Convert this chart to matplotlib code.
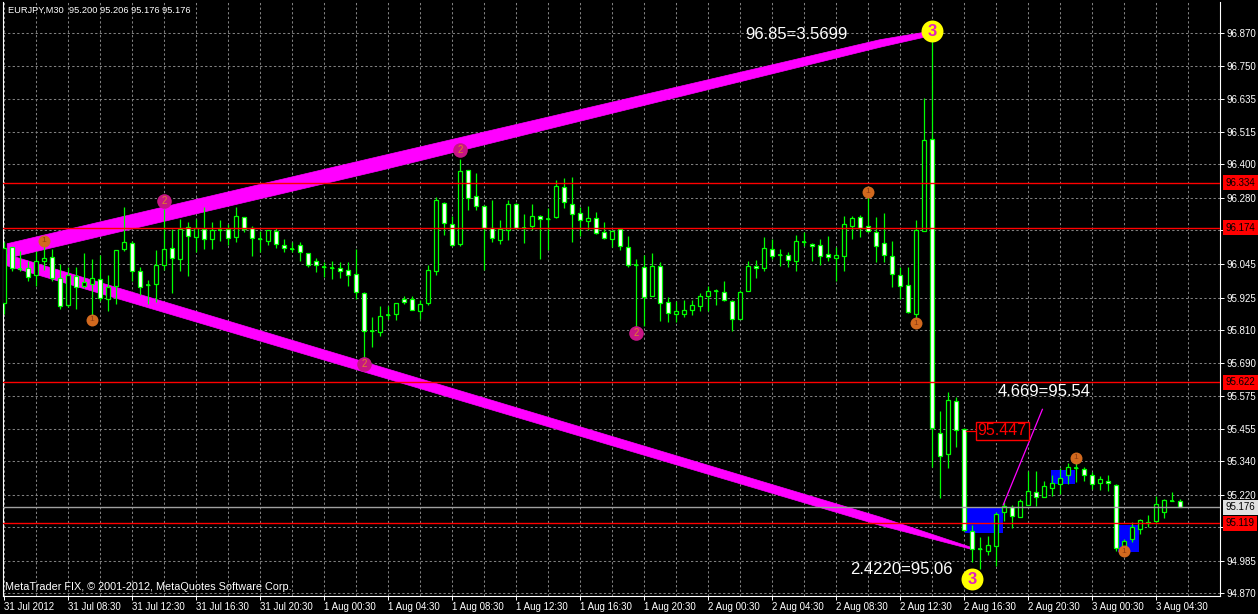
import numpy as np
import matplotlib.pyplot as plt
from matplotlib.patches import Rectangle, Polygon
from matplotlib.transforms import blended_transform_factory, ScaledTranslation

plt.rcParams['font.family'] = ['Liberation Sans', 'DejaVu Sans']

header = "EURJPY,M30  95.200 95.206 95.176 95.176"
copyright_txt = "MetaTrader FIX, \u00a9 2001-2012, MetaQuotes Software Corp."

# M30 candles, 31 Jul 04:30 .. 3 Aug 06:00
opens = [95.904, 96.104, 96.028, 96.030, 96.005, 96.054, 96.068, 95.995, 95.897, 96.002,
         95.966, 95.973, 95.991, 95.920, 95.967, 96.098, 96.119, 96.021, 95.968, 95.973,
         96.040, 96.102, 96.062, 96.175, 96.140, 96.169, 96.134, 96.166, 96.169, 96.142,
         96.211, 96.172, 96.133, 96.125, 96.161, 96.112, 96.099, 96.112, 96.083, 96.055,
         96.035, 96.030, 96.030, 96.023, 96.009, 95.941, 95.804, 95.802, 95.864, 95.866,
         95.918, 95.921, 95.877, 95.905, 96.020, 96.263, 96.188, 96.115, 96.379, 96.286,
         96.250, 96.174, 96.132, 96.165, 96.260, 96.174, 96.179, 96.217, 96.206, 96.212,
         96.319, 96.260, 96.228, 96.198, 96.210, 96.160, 96.134, 96.169, 96.104, 96.040,
         96.033, 95.929, 96.036, 95.908, 95.865, 95.865, 95.880, 95.896, 95.929, 95.947,
         95.945, 95.913, 95.847, 95.947, 96.037, 96.030, 96.097, 96.077, 96.077, 96.054,
         96.122, 96.116, 96.112, 96.080, 96.065, 96.072, 96.181, 96.211, 96.179, 96.160,
         96.120, 96.074, 96.005, 95.970, 95.866, 96.163, 96.492, 95.443, 95.365, 95.555,
         95.456, 95.091, 95.026, 95.022, 95.038, 95.159, 95.177, 95.141, 95.186, 95.230,
         95.215, 95.246, 95.258, 95.293, 95.317, 95.313, 95.293, 95.262, 95.272, 95.256,
         95.040, 95.064, 95.100, 95.125, 95.129, 95.160, 95.200, 95.200]
highs = [96.122, 96.106, 96.092, 96.056, 96.092, 96.122, 96.098, 96.045, 96.033, 96.035,
         96.085, 96.062, 96.078, 96.007, 96.095, 96.247, 96.128, 96.033, 95.987, 96.095,
         96.241, 96.169, 96.205, 96.193, 96.205, 96.249, 96.193, 96.202, 96.187, 96.249,
         96.214, 96.181, 96.164, 96.166, 96.173, 96.134, 96.124, 96.124, 96.085, 96.065,
         96.051, 96.056, 96.053, 96.053, 96.098, 95.944, 95.854, 95.894, 95.894, 95.905,
         95.929, 95.929, 95.917, 96.040, 96.283, 96.266, 96.215, 96.420, 96.381, 96.369,
         96.254, 96.272, 96.200, 96.274, 96.262, 96.222, 96.257, 96.218, 96.245, 96.343,
         96.351, 96.355, 96.248, 96.250, 96.230, 96.196, 96.166, 96.172, 96.146, 96.062,
         96.077, 96.084, 96.051, 95.928, 95.914, 95.917, 95.917, 95.942, 95.965, 95.955,
         95.985, 95.915, 95.953, 96.056, 96.060, 96.140, 96.134, 96.099, 96.089, 96.149,
         96.158, 96.118, 96.134, 96.146, 96.104, 96.215, 96.217, 96.221, 96.304, 96.211,
         96.225, 96.128, 96.033, 96.033, 96.202, 96.638, 96.855, 95.519, 95.588, 95.570,
         95.458, 95.114, 95.070, 95.073, 95.161, 95.197, 95.183, 95.206, 95.305, 95.305,
         95.272, 95.290, 95.317, 95.334, 95.334, 95.322, 95.302, 95.287, 95.293, 95.260,
         95.064, 95.123, 95.135, 95.150, 95.216, 95.206, 95.230, 95.206]
lows = [95.866, 96.021, 96.021, 95.983, 95.967, 96.023, 95.983, 95.884, 95.890, 95.884,
        95.959, 95.854, 95.914, 95.878, 95.902, 96.090, 95.985, 95.935, 95.902, 95.910,
        96.023, 95.940, 96.021, 96.003, 96.086, 96.098, 96.098, 96.128, 96.114, 96.122,
        96.158, 96.074, 96.086, 96.114, 96.100, 96.089, 96.089, 96.054, 96.033, 96.015,
        95.999, 95.991, 95.993, 95.967, 95.920, 95.706, 95.747, 95.787, 95.850, 95.846,
        95.903, 95.879, 95.849, 95.897, 96.004, 96.147, 96.108, 96.108, 96.239, 96.239,
        96.022, 96.123, 96.115, 96.131, 96.171, 96.119, 96.165, 96.064, 96.093, 96.210,
        96.245, 96.123, 96.143, 96.165, 96.153, 96.134, 96.104, 96.096, 96.033, 95.807,
        95.825, 95.929, 95.842, 95.836, 95.836, 95.854, 95.864, 95.876, 95.876, 95.899,
        95.911, 95.804, 95.847, 95.947, 95.995, 96.018, 96.062, 96.039, 96.035, 96.021,
        96.110, 96.056, 96.042, 96.054, 95.983, 96.021, 96.134, 96.142, 96.158, 96.051,
        96.051, 95.964, 95.920, 95.869, 95.831, 96.163, 95.321, 95.211, 95.315, 95.392,
        95.093, 94.983, 94.957, 95.007, 94.966, 95.126, 95.102, 95.141, 95.186, 95.180,
        95.215, 95.218, 95.224, 95.258, 95.266, 95.272, 95.242, 95.240, 95.236, 95.020,
        95.028, 95.052, 95.080, 95.105, 95.118, 95.139, 95.198, 95.176]
closes = [96.102, 96.030, 96.028, 95.997, 96.056, 96.066, 95.995, 95.894, 96.005, 95.961,
          95.980, 95.995, 95.923, 95.961, 96.095, 96.124, 96.018, 95.961, 95.968, 96.041,
          96.098, 96.066, 96.169, 96.144, 96.172, 96.134, 96.166, 96.166, 96.137, 96.217,
          96.169, 96.137, 96.133, 96.166, 96.116, 96.100, 96.099, 96.086, 96.041, 96.041,
          96.035, 96.030, 96.021, 96.005, 95.944, 95.807, 95.804, 95.860, 95.864, 95.905,
          95.909, 95.882, 95.903, 96.024, 96.272, 96.191, 96.111, 96.375, 96.280, 96.250,
          96.174, 96.137, 96.171, 96.257, 96.173, 96.174, 96.215, 96.206, 96.206, 96.322,
          96.266, 96.224, 96.203, 96.210, 96.156, 96.137, 96.163, 96.108, 96.041, 96.040,
          95.926, 96.036, 95.905, 95.869, 95.877, 95.882, 95.898, 95.930, 95.949, 95.947,
          95.915, 95.848, 95.946, 96.037, 96.030, 96.102, 96.073, 96.077, 96.059, 96.127,
          96.122, 96.108, 96.072, 96.068, 96.077, 96.187, 96.209, 96.173, 96.161, 96.108,
          96.077, 96.009, 95.965, 95.872, 96.166, 96.486, 95.458, 95.359, 95.559, 95.452,
          95.096, 95.028, 95.026, 95.042, 95.151, 95.180, 95.147, 95.198, 95.234, 95.212,
          95.252, 95.262, 95.281, 95.319, 95.317, 95.292, 95.260, 95.278, 95.262, 95.032,
          95.058, 95.105, 95.130, 95.120, 95.190, 95.204, 95.200, 95.176]

time_labels = ["31 Jul 2012", "31 Jul 08:30", "31 Jul 12:30", "31 Jul 16:30", "31 Jul 20:30",
               "1 Aug 00:30", "1 Aug 04:30", "1 Aug 08:30", "1 Aug 12:30", "1 Aug 16:30",
               "1 Aug 20:30", "2 Aug 00:30", "2 Aug 04:30", "2 Aug 08:30", "2 Aug 12:30",
               "2 Aug 16:30", "2 Aug 20:30", "3 Aug 00:30", "3 Aug 04:30"]
time_label_bars = list(range(0, 145, 8))

price_ticks = [96.870, 96.750, 96.635, 96.515, 96.400, 96.280, 96.165, 96.045, 95.925,
               95.810, 95.690, 95.575, 95.455, 95.340, 95.220, 95.105, 94.985, 94.870]
red_levels = [96.334, 96.174, 95.622, 95.119]
bid = 95.176

# wave labels
wave1_bars = [5, 11, 108, 114, 134, 140]
wave1_prices = [96.127, 95.845, 96.302, 95.834, 95.353, 95.020]
wave2_bars = [20, 45, 57, 79]
wave2_prices = [96.270, 95.688, 96.451, 95.799]
wave3_bars = [116, 121]
wave3_prices = [96.875, 94.920]

# magenta channel bands (bar, top price, bottom price)
upper_band_bars = [0.4, 47, 109.5, 116]
upper_band_top = [96.117, 96.429, 96.845, 96.876]
upper_band_bot = [96.065, 96.378, 96.818, 96.860]
lower_band_bars = [0.3, 109.5, 120.75]
lower_band_top = [96.079, 95.142, 95.035]
lower_band_bot = [96.039, 95.112, 95.028]

# blue boxes (bar from, bar to, price low, price high)
boxes = [(120.1, 124.9, 95.086, 95.175),
         (130.9, 133.9, 95.260, 95.310),
         (139.2, 141.9, 95.017, 95.113)]

proj_line_bars = [124.9, 129.8]
proj_line_prices = [95.185, 95.526]

o = np.array(opens)
h = np.array(highs)
l = np.array(lows)
c = np.array(closes)
x = np.arange(len(o))

green = '#00ff00'
W, H = 1258, 614
fig = plt.figure(figsize=(W / 100, H / 100), dpi=100, facecolor='black')
ax = fig.add_axes([3 / W, 18 / H, 1217 / W, 594 / H], facecolor='black')
ax.set_xlim(-0.125, 152)
ax.set_ylim(94.860, 96.9795)

# grid
ax.set_xticks(time_label_bars)
ax.set_xticks(np.arange(4, 152, 4), minor=True)
ax.set_yticks(price_ticks)
# the labels under the red level boxes are hidden in the terminal
hidden = [96.165, 95.105]
ax.set_yticklabels(["" if p in hidden else f"{p:.3f}" for p in price_ticks])
ax.grid(True, axis='x', which='both', color='#808080', lw=0.75, ls=(0, (2.2, 2.2)))
ax.grid(True, axis='y', which='major', color='#808080', lw=0.75, ls=(0, (2.2, 2.2)))
ax.set_axisbelow(True)

# bands
up_poly = list(zip(upper_band_bars, upper_band_top)) + list(zip(upper_band_bars[::-1], upper_band_bot[::-1]))
lo_poly = list(zip(lower_band_bars, lower_band_top)) + list(zip(lower_band_bars[::-1], lower_band_bot[::-1]))
ax.add_patch(Polygon(up_poly, closed=True, fc='#ff00ff', ec='#ff00ff', lw=0.5, zorder=2))
ax.add_patch(Polygon(lo_poly, closed=True, fc='#ff00ff', ec='#ff00ff', lw=0.5, zorder=2))

for b0, b1, p0, p1 in boxes:
    ax.add_patch(Rectangle((b0, p0), b1 - b0, p1 - p0, fc='#0000ff', ec='none', zorder=2.2))

# candles
ax.vlines(x, l, h, color=green, lw=0.9, zorder=3)
bottom = np.minimum(o, c)
height = np.abs(c - o)
fills = np.where(c > o, 'black', 'white')
ax.bar(x, height, bottom=bottom, width=0.55, color=fills, edgecolor=green, lw=0.9, zorder=3.5)
doji = height < 0.0005
ax.hlines(o[doji], x[doji] - 0.3, x[doji] + 0.3, color=green, lw=1.2, zorder=3.6)

# horizontal levels
trans = blended_transform_factory(ax.transAxes, ax.transData)
ax.axhline(bid, color='#a0a0a0', lw=1.0, zorder=4)
for lvl in red_levels:
    ax.axhline(lvl, color='red', lw=1.0, zorder=4)
    ax.text(1.0045, lvl, f"{lvl:.3f}", transform=trans, ha='left', va='center', fontsize=7,
            color='black', zorder=10, clip_on=False,
            bbox=dict(boxstyle='square,pad=0.25', fc='red', ec='none'))
ax.text(1.0045, bid, f"{bid:.3f}", transform=trans, ha='left', va='center', fontsize=7,
        color='black', zorder=10, clip_on=False,
        bbox=dict(boxstyle='square,pad=0.25', fc='#e0e0e0', ec='none'))

# projection line and labels
ax.plot(proj_line_bars, proj_line_prices, color='#ff00ff', lw=0.9, zorder=5)
ax.text(92.6, 96.862, "96.85=3.5699", color='white', fontsize=12, ha='left', va='center', zorder=9)
ax.text(124.25, 95.588, "4.669=95.54", color='white', fontsize=12, ha='left', va='center', zorder=9)
ax.text(105.75, 94.953, "2.4220=95.06", color='white', fontsize=12, ha='left', va='center', zorder=9)
ax.plot([120.2, 121.4], [95.449, 95.449], color='red', lw=0.9, zorder=5)
ax.text(121.7, 95.449, "95.447", color='red', fontsize=11.5, ha='left', va='center', zorder=9,
        bbox=dict(boxstyle='square,pad=0.12', fc='black', ec='red', lw=1.0))

# wave markers
ax.plot(wave1_bars, wave1_prices, 'o', ms=8.6, mfc='#d2691e', mec='none', zorder=7)
for b, p in zip(wave1_bars, wave1_prices):
    ax.text(b, p, '1', ha='center', va='center', fontsize=6, color='#8b3a10', zorder=8)
ax.plot(wave2_bars, wave2_prices, 'o', ms=10.5, mfc='#c71585', mec='none', zorder=7)
for b, p in zip(wave2_bars, wave2_prices):
    ax.text(b, p, '2', ha='center', va='center', fontsize=7, color='#e0802a', zorder=8)
ax.plot(wave3_bars, wave3_prices, 'o', ms=15.8, mfc='#ffff00', mec='none', zorder=7)
for b, p in zip(wave3_bars, wave3_prices):
    ax.text(b, p, '3', ha='center', va='center', fontsize=12, fontweight='bold',
            color='#e020c0', zorder=8)

# axes styling
ax.yaxis.tick_right()
ax.set_xticklabels(time_labels, ha='left')
for lab in ax.get_xticklabels():
    lab.set_transform(lab.get_transform() + ScaledTranslation(1.5 / 72, 0, fig.dpi_scale_trans))
ax.tick_params(axis='both', which='major', colors='white', labelsize=7, length=3, width=0.7, pad=1.5)
ax.tick_params(axis='x', which='minor', length=0)
for side in ['left', 'right', 'bottom']:
    ax.spines[side].set_color('white')
    ax.spines[side].set_linewidth(0.8)
ax.spines['top'].set_visible(False)

fig.text(8 / W, 1 - 10 / H, header, color='white', fontsize=6.7, ha='left', va='center')
fig.text(5 / W, 1 - 587 / H, copyright_txt, color='white', fontsize=7.8, ha='left', va='center')

fig.savefig('out.png', dpi=100, facecolor='black')
